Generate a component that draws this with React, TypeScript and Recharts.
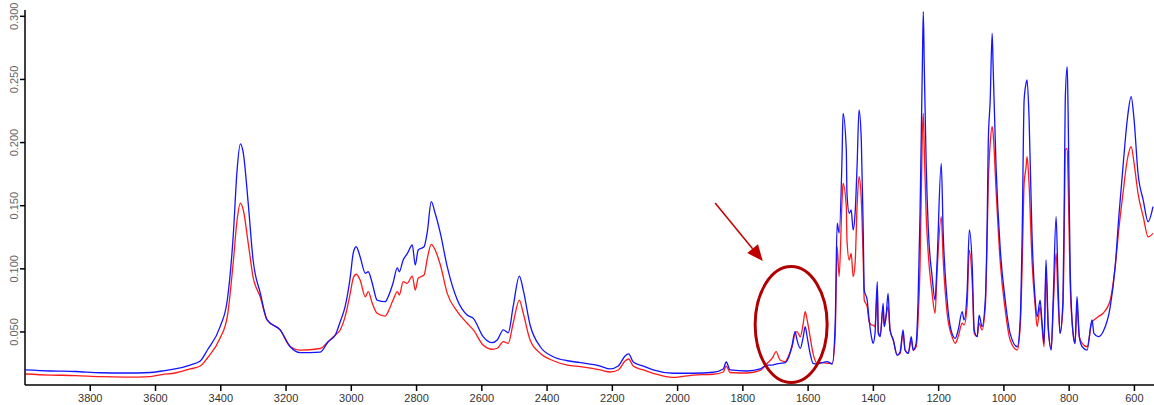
import {
  LineChart,
  Line,
  XAxis,
  YAxis,
  ReferenceDot,
  ReferenceLine,
} from "recharts";

// wavenumbers (cm-1) from left to right
const WAVENUMBERS = [
  3999, 3923, 3846, 3769, 3693, 3616, 3580, 3540, 3494, 3463, 3441, 3402, 3380, 3362, 3350, 3340, 3331, 3316,
  3301, 3279, 3258, 3218, 3187, 3157, 3095, 3071, 3049, 3034, 3019, 3003, 2994, 2985, 2973, 2957, 2948, 2936,
  2921, 2896, 2887, 2872, 2859, 2853, 2841, 2829, 2813, 2804, 2795, 2777, 2767, 2755, 2743, 2727, 2706, 2675,
  2645, 2626, 2596, 2568, 2553, 2534, 2519, 2504, 2485, 2473, 2452, 2421, 2381, 2338, 2298, 2237, 2207, 2182,
  2161, 2150, 2136, 2105, 2075, 2014, 1952, 1891, 1860, 1851, 1839, 1787, 1747, 1725, 1710, 1698, 1686, 1670,
  1661, 1649, 1640, 1634, 1624, 1615, 1609, 1603, 1594, 1585, 1572, 1557, 1542, 1526, 1517, 1511, 1505, 1496,
  1493, 1483, 1481, 1474, 1468, 1462, 1456, 1450, 1444, 1437, 1431, 1428, 1419, 1413, 1404, 1401, 1395, 1388,
  1385, 1379, 1370, 1367, 1361, 1355, 1349, 1339, 1327, 1318, 1309, 1303, 1293, 1284, 1278, 1269, 1263, 1257,
  1250, 1247, 1244, 1238, 1232, 1220, 1211, 1205, 1192, 1186, 1174, 1159, 1149, 1140, 1128, 1122, 1113, 1106,
  1097, 1091, 1082, 1076, 1067, 1057, 1051, 1048, 1042, 1036, 1033, 1024, 1011, 996, 981, 959, 950, 944, 938,
  932, 929, 923, 914, 904, 898, 889, 883, 877, 871, 864, 855, 849, 840, 834, 828, 819, 815, 812, 806, 803, 797,
  788, 782, 776, 769, 760, 745, 730, 724, 711, 696, 674, 659, 647, 635, 622, 610, 601, 589, 573, 558, 543,
];

const BLUE = [
  0.0199, 0.0191, 0.0187, 0.0177, 0.0175, 0.0179, 0.0191, 0.0207, 0.0238, 0.027, 0.0357, 0.0542, 0.0753, 0.1255,
  0.1783, 0.1989, 0.1917, 0.1521, 0.107, 0.0809, 0.0595, 0.0516, 0.0383, 0.0336, 0.0341, 0.0423, 0.0476, 0.0581,
  0.07, 0.0938, 0.1126, 0.1175, 0.1096, 0.0965, 0.0977, 0.0888, 0.0753, 0.074, 0.0779, 0.0888, 0.1007, 0.0977,
  0.107, 0.1118, 0.1189, 0.103, 0.1149, 0.1175, 0.1294, 0.1532, 0.144, 0.1281, 0.1017, 0.0753, 0.0634, 0.0608,
  0.0463, 0.0415, 0.0436, 0.0516, 0.0494, 0.07, 0.0943, 0.0832, 0.0555, 0.0383, 0.0304, 0.0272, 0.0257, 0.023,
  0.0207, 0.023, 0.031, 0.0326, 0.0262, 0.023, 0.0199, 0.0173, 0.0173, 0.0181, 0.0207, 0.0262, 0.0199, 0.0191,
  0.0207, 0.0238, 0.0238, 0.0246, 0.0252, 0.0257, 0.0291, 0.0397, 0.0502, 0.0436, 0.037, 0.0462, 0.0542, 0.0462,
  0.0331, 0.0252, 0.0246, 0.0257, 0.0265, 0.0246, 0.0571, 0.1361, 0.1284, 0.1888, 0.2232, 0.1941, 0.1598, 0.144,
  0.1466, 0.1308, 0.144, 0.1809, 0.2258, 0.202, 0.1281, 0.0832, 0.0753, 0.0595, 0.0436, 0.041, 0.0489, 0.0898,
  0.0489, 0.0463, 0.0727, 0.0542, 0.0621, 0.0806, 0.0516, 0.0436, 0.0317, 0.0344, 0.0516, 0.0357, 0.0331, 0.0463,
  0.0357, 0.041, 0.0753, 0.144, 0.2601, 0.3037, 0.2601, 0.1809, 0.1334, 0.0938, 0.0753, 0.1044, 0.1836, 0.1281,
  0.0753, 0.0489, 0.045, 0.0516, 0.0661, 0.0595, 0.0806, 0.1308, 0.1017, 0.0516, 0.0463, 0.0634, 0.0542, 0.0753,
  0.1413, 0.1994, 0.2337, 0.2865, 0.2601, 0.1809, 0.1149, 0.0753, 0.0489, 0.0383, 0.0595, 0.1281, 0.2337, 0.247,
  0.2496, 0.2205, 0.1281, 0.0753, 0.0621, 0.0753, 0.0569, 0.041, 0.107, 0.0542, 0.0357, 0.0753, 0.1413, 0.0885,
  0.0489, 0.0753, 0.1545, 0.2337, 0.2601, 0.2205, 0.1017, 0.0489, 0.041, 0.0779, 0.0463, 0.0383, 0.0357, 0.0595,
  0.0489, 0.0463, 0.0502, 0.07, 0.1017, 0.144, 0.1809, 0.2179, 0.2363, 0.2179, 0.1757, 0.1545, 0.1373, 0.1492,
];

const RED = [
  0.0167, 0.0159, 0.0155, 0.0146, 0.0143, 0.0147, 0.0163, 0.0175, 0.0207, 0.023, 0.0294, 0.0452, 0.0621, 0.1046,
  0.1387, 0.1521, 0.1466, 0.1205, 0.0935, 0.0777, 0.0595, 0.0516, 0.0383, 0.0357, 0.0369, 0.0423, 0.0476, 0.0516,
  0.0621, 0.0809, 0.0927, 0.0957, 0.0912, 0.0779, 0.0819, 0.0729, 0.0648, 0.0626, 0.0661, 0.0753, 0.0819, 0.0793,
  0.0898, 0.0885, 0.0943, 0.0832, 0.0925, 0.0951, 0.1083, 0.1194, 0.1149, 0.103, 0.0806, 0.0661, 0.0569, 0.0516,
  0.0397, 0.0363, 0.0371, 0.0423, 0.041, 0.0569, 0.0753, 0.0648, 0.0436, 0.0331, 0.0272, 0.0238, 0.0225, 0.0199,
  0.0183, 0.0199, 0.027, 0.0286, 0.023, 0.0199, 0.0173, 0.014, 0.0159, 0.0165, 0.0183, 0.023, 0.0179, 0.0175,
  0.0195, 0.0252, 0.0292, 0.0344, 0.0278, 0.0265, 0.0304, 0.0383, 0.0489, 0.0502, 0.0462, 0.0569, 0.0661, 0.0595,
  0.0462, 0.0331, 0.0252, 0.0257, 0.0252, 0.0252, 0.0476, 0.1175, 0.0938, 0.1545, 0.1677, 0.1492, 0.1228, 0.107,
  0.1123, 0.0938, 0.1044, 0.1492, 0.173, 0.1545, 0.1044, 0.0753, 0.07, 0.0581, 0.0555, 0.0555, 0.0542, 0.0832,
  0.0502, 0.0476, 0.07, 0.0555, 0.0634, 0.07, 0.0516, 0.0436, 0.0317, 0.0331, 0.0489, 0.0357, 0.0331, 0.0436,
  0.0357, 0.0383, 0.0595, 0.1017, 0.2073, 0.2232, 0.1941, 0.1413, 0.1123, 0.0806, 0.0648, 0.0965, 0.1413, 0.107,
  0.0648, 0.0463, 0.041, 0.0463, 0.0569, 0.0555, 0.07, 0.1149, 0.0885, 0.0489, 0.0463, 0.0569, 0.0516, 0.07,
  0.1281, 0.1651, 0.1994, 0.2126, 0.2073, 0.1624, 0.1044, 0.0674, 0.0436, 0.0357, 0.0542, 0.1017, 0.1677, 0.1809,
  0.1888, 0.1677, 0.107, 0.07, 0.0542, 0.07, 0.0542, 0.0383, 0.0965, 0.0516, 0.037, 0.0674, 0.1123, 0.0753,
  0.0489, 0.07, 0.1281, 0.1941, 0.1954, 0.1677, 0.0885, 0.0489, 0.041, 0.07, 0.0463, 0.041, 0.0383, 0.0581,
  0.0595, 0.0621, 0.0648, 0.0753, 0.1017, 0.1334, 0.1598, 0.1862, 0.1967, 0.1836, 0.1598, 0.1413, 0.1254, 0.1281,
];

const X_TICKS = [3800, 3600, 3400, 3200, 3000, 2800, 2600, 2400, 2200, 2000, 1800, 1600, 1400, 1200, 1000, 800, 600];
const Y_TICKS = [0.05, 0.1, 0.15, 0.2, 0.25, 0.3];

// annotation: circled band and the arrow pointing at it
const CIRCLE_CENTER = { x: 1652, y: 0.0559 };
const ARROW_START = { x: 1885, y: 0.1521 };
const ARROW_END = { x: 1739, y: 0.1062 };

const data = WAVENUMBERS.map((wn, i) => ({ wn, blue: BLUE[i], red: RED[i] }));

function YTick(props: any) {
  const { y, payload } = props;
  return (
    <text
      x={18}
      y={y}
      transform={`rotate(-90, 18, ${y})`}
      textAnchor="middle"
      fontSize={11}
      fill="#666"
      fontFamily="Liberation Sans, Arial, sans-serif"
    >
      {payload.value.toFixed(3)}
    </text>
  );
}

function Arrow(props: any) {
  const { x1, y1, x2, y2 } = props;
  const dx = x2 - x1;
  const dy = y2 - y1;
  const len = Math.sqrt(dx * dx + dy * dy);
  const ux = dx / len;
  const uy = dy / len;
  const head = 16;
  const half = 7;
  const bx = x2 - ux * head;
  const by = y2 - uy * head;
  return (
    <g>
      <line x1={x1} y1={y1} x2={bx} y2={by} stroke="#c00000" strokeWidth={1.5} />
      <polygon
        points={`${x2},${y2} ${bx - uy * half},${by + ux * half} ${bx + uy * half},${by - ux * half}`}
        fill="#c00000"
      />
    </g>
  );
}

export default function App() {
  return (
    <div style={{ position: "absolute", left: 0, top: 0, background: "#fff" }}>
      <LineChart width={1154} height={405} data={data} margin={{ top: 10, right: 0, bottom: 0, left: 0 }}>
        <XAxis
          dataKey="wn"
          type="number"
          domain={[540, 4000]}
          reversed
          allowDataOverflow
          ticks={X_TICKS}
          height={20}
          tickSize={6}
          tickMargin={3}
          stroke="#000"
          strokeWidth={1.5}
          tick={{ fontSize: 11, fill: "#333", fontFamily: "Liberation Sans, Arial, sans-serif" }}
        />
        <YAxis
          type="number"
          domain={[0.008, 0.305]}
          allowDataOverflow
          ticks={Y_TICKS}
          width={25}
          tickSize={5}
          stroke="#000"
          strokeWidth={1.5}
          tick={<YTick />}
        />
        <Line
          type="monotoneX"
          dataKey="red"
          stroke="#ff1a1a"
          strokeWidth={1.3}
          dot={false}
          isAnimationActive={false}
        />
        <Line
          type="monotoneX"
          dataKey="blue"
          stroke="#1414ff"
          strokeWidth={1.3}
          dot={false}
          isAnimationActive={false}
        />
        <ReferenceDot
          x={CIRCLE_CENTER.x}
          y={CIRCLE_CENTER.y}
          shape={(p: any) => (
            <ellipse cx={p.cx} cy={p.cy} rx={36} ry={58} fill="none" stroke="#b00000" strokeWidth={3} />
          )}
        />
        <ReferenceLine
          segment={[ARROW_START, ARROW_END]}
          shape={(p: any) => <Arrow {...p} />}
        />
      </LineChart>
    </div>
  );
}
